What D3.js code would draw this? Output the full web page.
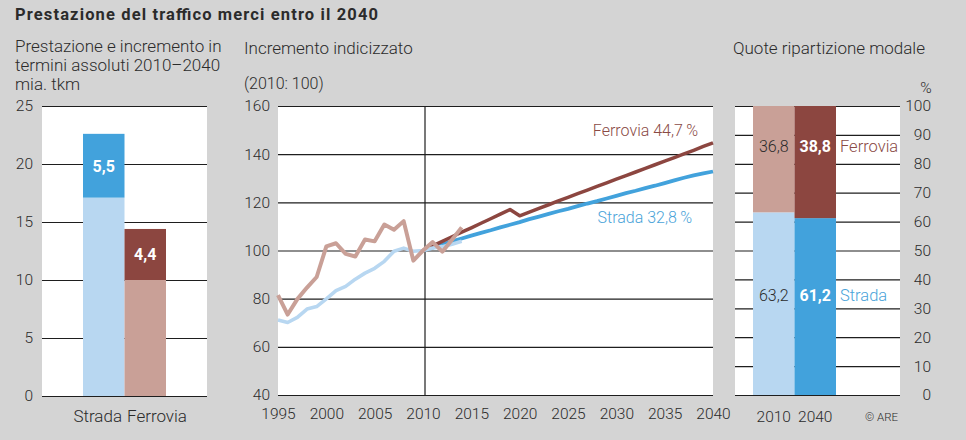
<!DOCTYPE html>
<html>
<head>
<meta charset="utf-8">
<script src="https://cdn.jsdelivr.net/npm/d3@7"></script>
<style>
  html, body { margin: 0; padding: 0; background: #d4d4d4; }
  svg { display: block; }
  text { font-family: Roboto, "Liberation Sans", sans-serif; font-weight: 300; }
</style>
</head>
<body>
<svg id="chart" width="966" height="440" fill="#2b2b2b"></svg>
<script>
// ---------- DATA ----------
const leftCategories = ["Strada", "Ferrovia"];
const leftBase2010 = [17.1, 10.0];
const leftIncrement = [5.5, 4.4];
const leftTicks = [0, 5, 10, 15, 20, 25];

const histYears = [1995, 1996, 1997, 1998, 1999, 2000, 2001, 2002, 2003, 2004, 2005, 2006, 2007, 2008, 2009, 2010, 2011, 2012, 2013, 2014];
const histStrada = [71.1, 70.1, 72.2, 75.7, 76.7, 79.9, 83.3, 85.1, 88.1, 90.6, 92.6, 95.5, 99.7, 101.0, 99.7, 100, 101.0, 101.6, 102.6, 103.8];
const histFerrovia = [81.5, 73.4, 79.8, 84.6, 89.0, 101.7, 103.0, 98.6, 97.5, 104.6, 103.8, 110.8, 108.6, 112.2, 95.8, 100, 103.5, 99.5, 104.5, 109.6];

const projYears = [2010, 2011, 2012, 2013, 2014, 2015, 2016, 2017, 2018, 2019, 2020, 2021, 2022, 2023, 2024, 2025, 2026, 2027, 2028, 2029, 2030, 2031, 2032, 2033, 2034, 2035, 2036, 2037, 2038, 2039, 2040];
const projStrada = [100, 101.2, 102.5, 103.8, 105.0, 106.2, 107.3, 108.4, 109.6, 110.7, 111.8, 113.0, 114.1, 115.2, 116.3, 117.3, 118.4, 119.5, 120.5, 121.6, 122.7, 123.8, 124.8, 125.9, 126.9, 128.0, 129.1, 130.2, 131.2, 132.0, 132.8];
const projFerrovia = [100, 101.9, 103.8, 105.7, 107.6, 109.4, 111.3, 113.2, 115.1, 117.0, 114.4, 115.9, 117.5, 119.0, 120.6, 122.1, 123.6, 125.1, 126.6, 128.1, 129.6, 131.1, 132.6, 134.1, 135.6, 137.1, 138.6, 140.1, 141.6, 143.2, 144.7];
const midYTicks = [40, 60, 80, 100, 120, 140, 160];
const midXTicks = [1995, 2000, 2005, 2010, 2015, 2020, 2025, 2030, 2035, 2040];
const endLabelStrada = "Strada 32,8\u2009%";
const endLabelFerrovia = "Ferrovia 44,7\u2009%";

const shareYears = ["2010", "2040"];
const shareStrada = [63.2, 61.2];
const shareFerrovia = [36.8, 38.8];
const rightTicks = [0, 10, 20, 30, 40, 50, 60, 70, 80, 90, 100];

// ---------- STYLE ----------
const C = {
  stradaLight: "#b8d7f1",
  stradaDark: "#42a2dc",
  ferroLight: "#c9a097",
  ferroDark: "#8c4640",
  grid: "#1e1e1e",
  text: "#2b2b2b",
  ferroText: "#8a4a45",
  stradaText: "#4aa3d9"
};
const SUB = "17px";
const TICK = "15.5px";
const fmt = v => v.toFixed(1).replace(".", ",");

const svg = d3.select("#chart");

// Title
svg.append("text").attr("x", 15).attr("y", 20)
  .style("font-weight", 700).style("font-size", "16.5px").attr("fill", C.text)
  .attr("textLength", 363).attr("lengthAdjust", "spacing")
  .text("Prestazione del traffico merci entro il 2040");

// ---------- LEFT PANEL ----------
const L = { x0: 42, x1: 207, y0: 106, y1: 396 };
const yL = d3.scaleLinear().domain([0, 25]).range([L.y1, L.y0]);
const xL = d3.scaleBand().domain(leftCategories).range([83, 166]).padding(0);

svg.append("text").attr("x", 15).attr("y", 51.5).style("font-size", SUB).text("Prestazione e incremento in");
svg.append("text").attr("x", 15).attr("y", 70.5).style("font-size", SUB).text("termini assoluti 2010\u20132040");
svg.append("text").attr("x", 15).attr("y", 89.5).style("font-size", SUB).text("mia. tkm");

svg.append("rect").attr("x", L.x0).attr("y", L.y0).attr("width", L.x1 - L.x0).attr("height", L.y1 - L.y0).attr("fill", "#fff");

const gL = svg.append("g").attr("transform", `translate(${L.x0},0)`)
  .call(d3.axisLeft(yL).tickValues(leftTicks).tickSizeInner(-(L.x1 - L.x0)).tickSizeOuter(0).tickPadding(9).tickFormat(d3.format("d")));
gL.select(".domain").remove();
gL.selectAll(".tick line").attr("stroke", C.grid).attr("stroke-width", 1.2);
gL.selectAll(".tick text").style("font-size", TICK).attr("fill", C.text).style("font-family", "Roboto").style("font-weight", 300);

const baseCols = [C.stradaLight, C.ferroLight];
const incCols = [C.stradaDark, C.ferroDark];
leftCategories.forEach((cat, i) => {
  svg.append("rect").attr("x", xL(cat)).attr("width", xL.bandwidth())
    .attr("y", yL(leftBase2010[i])).attr("height", yL(0) - yL(leftBase2010[i])).attr("fill", baseCols[i]);
  const top = leftBase2010[i] + leftIncrement[i];
  svg.append("rect").attr("x", xL(cat)).attr("width", xL.bandwidth())
    .attr("y", yL(top)).attr("height", yL(leftBase2010[i]) - yL(top)).attr("fill", incCols[i]);
  svg.append("text").attr("x", xL(cat) + xL.bandwidth() / 2).attr("y", yL(leftBase2010[i] + leftIncrement[i] / 2))
    .attr("dy", "0.36em").attr("text-anchor", "middle").attr("fill", "#fff")
    .style("font-weight", 700).style("font-size", "16px").text(fmt(leftIncrement[i]));
  // category labels sit snug around the bars' shared edge
  const edge = xL(leftCategories[1]);
  svg.append("text").attr("x", i === 0 ? edge - 2.5 : edge + 2.5).attr("y", 422)
    .attr("text-anchor", i === 0 ? "end" : "start").style("font-size", SUB).attr("fill", C.text).text(cat);
});

// ---------- MIDDLE PANEL ----------
const M = { x0: 278, x1: 713, y0: 106, y1: 395 };
const xM = d3.scaleLinear().domain([1995, 2040]).range([M.x0, M.x1]);
const yM = d3.scaleLinear().domain([40, 160]).range([M.y1, M.y0]);

svg.append("text").attr("x", 244).attr("y", 54).style("font-size", SUB).text("Incremento indicizzato");
svg.append("text").attr("x", 244).attr("y", 89).style("font-size", "16px").text("(2010: 100)");

svg.append("rect").attr("x", M.x0).attr("y", M.y0).attr("width", M.x1 - M.x0).attr("height", M.y1 - M.y0).attr("fill", "#fff");

const gMy = svg.append("g").attr("transform", `translate(${M.x0},0)`)
  .call(d3.axisLeft(yM).tickValues(midYTicks).tickSizeInner(-(M.x1 - M.x0)).tickSizeOuter(0).tickPadding(8).tickFormat(d3.format("d")));
gMy.select(".domain").remove();
gMy.selectAll(".tick line").attr("stroke", C.grid).attr("stroke-width", 1.2);
gMy.selectAll(".tick text").style("font-size", TICK).attr("fill", C.text).style("font-family", "Roboto").style("font-weight", 300);

const gMx = svg.append("g").attr("transform", `translate(0,${M.y1})`)
  .call(d3.axisBottom(xM).tickValues(midXTicks).tickSize(0).tickPadding(13).tickFormat(d3.format("d")));
gMx.select(".domain").remove();
gMx.selectAll(".tick text").style("font-size", TICK).attr("fill", C.text).style("font-family", "Roboto").style("font-weight", 300);

svg.append("line").attr("x1", xM(2010) + 2).attr("x2", xM(2010) + 2).attr("y1", M.y0).attr("y2", M.y1)
  .attr("stroke", C.grid).attr("stroke-width", 1.2);

const line = d3.line().x(d => xM(d[0])).y(d => yM(d[1]));
const zip = (a, b) => a.map((v, i) => [v, b[i]]);

svg.append("path").datum(zip(projYears, projStrada)).attr("d", line)
  .attr("fill", "none").attr("stroke", C.stradaDark).attr("stroke-width", 3.8).attr("stroke-linejoin", "round");
svg.append("path").datum(zip(projYears, projFerrovia)).attr("d", line)
  .attr("fill", "none").attr("stroke", C.ferroDark).attr("stroke-width", 3.5).attr("stroke-linejoin", "round");
svg.append("path").datum(zip(histYears, histStrada)).attr("d", line)
  .attr("fill", "none").attr("stroke", C.stradaLight).attr("stroke-width", 3.6).attr("stroke-linejoin", "round");
svg.append("path").datum(zip(histYears, histFerrovia)).attr("d", line)
  .attr("fill", "none").attr("stroke", C.ferroLight).attr("stroke-width", 4).attr("stroke-linejoin", "round");

svg.append("text").attr("x", 698).attr("y", 136).attr("text-anchor", "end")
  .style("font-size", "16px").attr("fill", C.ferroText).text(endLabelFerrovia);
svg.append("text").attr("x", 692).attr("y", 223).attr("text-anchor", "end")
  .style("font-size", "16px").attr("fill", C.stradaText).text(endLabelStrada);

// ---------- RIGHT PANEL ----------
const R = { x0: 735, x1: 900, y0: 106, y1: 395 };
const yR = d3.scaleLinear().domain([0, 100]).range([R.y1, R.y0]);
const xR = d3.scaleBand().domain(shareYears).range([753, 836]).padding(0);

svg.append("text").attr("x", 733).attr("y", 54).style("font-size", SUB).text("Quote ripartizione modale");
svg.append("text").attr("x", 926).attr("y", 93).attr("text-anchor", "middle").style("font-size", TICK).text("%");

svg.append("rect").attr("x", R.x0).attr("y", R.y0).attr("width", R.x1 - R.x0).attr("height", R.y1 - R.y0).attr("fill", "#fff");

const gR = svg.append("g").attr("transform", `translate(${R.x1},0)`)
  .call(d3.axisRight(yR).tickValues(rightTicks).tickSizeInner(-(R.x1 - R.x0)).tickSizeOuter(0).tickPadding(8).tickFormat(d3.format("d")));
gR.select(".domain").remove();
gR.selectAll(".tick line").attr("stroke", C.grid).attr("stroke-width", 1.2);
gR.selectAll(".tick text").attr("x", 31).attr("text-anchor", "end")
  .style("font-size", TICK).attr("fill", C.text).style("font-family", "Roboto").style("font-weight", 300);

shareYears.forEach((yr, i) => {
  const isNew = i === 1;
  svg.append("rect").attr("x", xR(yr)).attr("width", xR.bandwidth())
    .attr("y", yR(shareStrada[i])).attr("height", yR(0) - yR(shareStrada[i]))
    .attr("fill", isNew ? C.stradaDark : C.stradaLight);
  svg.append("rect").attr("x", xR(yr)).attr("width", xR.bandwidth())
    .attr("y", yR(shareStrada[i] + shareFerrovia[i])).attr("height", yR(shareStrada[i]) - yR(shareStrada[i] + shareFerrovia[i]))
    .attr("fill", isNew ? C.ferroDark : C.ferroLight);
  const cx = xR(yr) + xR.bandwidth() / 2;
  svg.append("text").attr("x", cx).attr("y", yR(86)).attr("dy", "0.36em").attr("text-anchor", "middle")
    .attr("fill", isNew ? "#fff" : C.text).style("font-weight", isNew ? 700 : 300).style("font-size", "16px")
    .text(fmt(shareFerrovia[i]));
  svg.append("text").attr("x", cx).attr("y", yR(34.5)).attr("dy", "0.36em").attr("text-anchor", "middle")
    .attr("fill", isNew ? "#fff" : C.text).style("font-weight", isNew ? 700 : 300).style("font-size", "16px")
    .text(fmt(shareStrada[i]));
  svg.append("text").attr("x", cx).attr("y", 422).attr("text-anchor", "middle").style("font-size", TICK).attr("fill", C.text).text(yr);
});
svg.append("text").attr("x", 840).attr("y", yR(86)).attr("dy", "0.36em").style("font-size", "16.5px")
  .attr("fill", C.ferroText).text("Ferrovia");
svg.append("text").attr("x", 840).attr("y", yR(34.5)).attr("dy", "0.36em").style("font-size", "16.5px")
  .attr("fill", C.stradaText).text("Strada");
svg.append("text").attr("x", 898).attr("y", 421).attr("text-anchor", "end").style("font-size", "11.5px")
  .attr("fill", C.text).text("\u00A9 ARE");
</script>
</body>
</html>
